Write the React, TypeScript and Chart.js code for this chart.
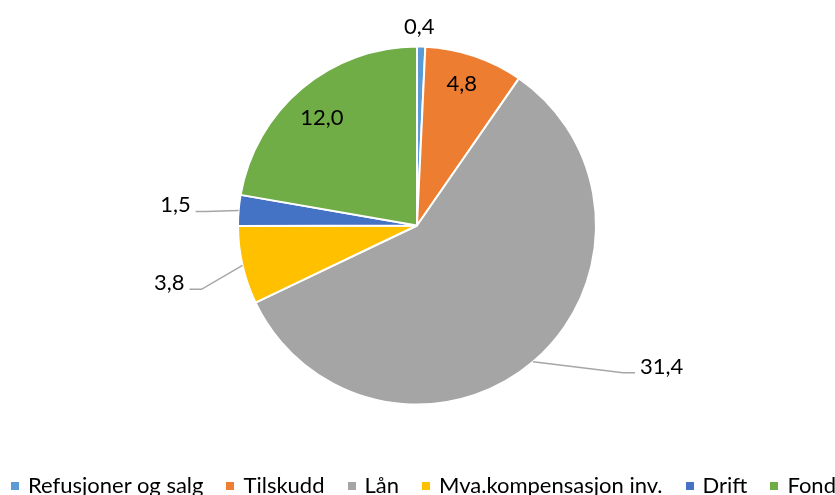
import React, { useEffect, useRef } from "react";
import { Chart, registerables } from "chart.js";

Chart.register(...registerables);

const categories = ["Refusjoner og salg", "Tilskudd", "Lån", "Mva.kompensasjon inv.", "Drift", "Fond"];
const values = [0.4, 4.8, 31.4, 3.8, 1.5, 12.0];
const sliceColors = ["#5B9BD5", "#ED7D31", "#A5A5A5", "#FFC000", "#4472C4", "#70AD47"];

const FONT = "Lato, 'Noto Sans', sans-serif";
const LABEL_SIZE = 22;
const LEGEND_SIZE = 22;

// placement style of each data label
const labelLayout: any[] = [
  { mode: "radial", dist: 20, nudgeX: -2.5, nudgeY: 0 },
  { mode: "inside", frac: 0.84, nudgeX: -3.5, nudgeY: 0 },
  { mode: "leader", elbowX: 90, elbowY: 11, run: 12 },
  { mode: "leader", elbowX: -41, elbowY: 24, run: 12 },
  { mode: "leader", elbowX: -33, elbowY: 1, run: 10 },
  { mode: "inside", frac: 0.8, nudgeX: -3, nudgeY: 1 },
];

const fmt = (v: number) => v.toFixed(1).replace(".", ",");

const labelPlugin = {
  id: "pieLabels",
  afterDatasetsDraw(chart: any) {
    const ctx = chart.ctx;
    const meta = chart.getDatasetMeta(0);
    ctx.save();
    ctx.font = `${LABEL_SIZE}px ${FONT}`;
    ctx.fillStyle = "#000";
    ctx.textBaseline = "alphabetic";
    const capHalf = LABEL_SIZE * 0.36;
    meta.data.forEach((arc: any, i: number) => {
      const { x, y, startAngle, endAngle, outerRadius } = arc.getProps(
        ["x", "y", "startAngle", "endAngle", "outerRadius"],
        true
      );
      const mid = (startAngle + endAngle) / 2;
      const cos = Math.cos(mid);
      const sin = Math.sin(mid);
      const lay = labelLayout[i];
      const text = fmt(values[i]);
      if (lay.mode === "inside" || lay.mode === "radial") {
        const d = lay.mode === "inside" ? outerRadius * lay.frac : outerRadius + lay.dist;
        const tx = x + d * cos + lay.nudgeX;
        const ty = y + d * sin + lay.nudgeY;
        ctx.textAlign = "center";
        ctx.fillText(text, tx, ty + capHalf);
      } else {
        const ex = x + outerRadius * cos;
        const ey = y + outerRadius * sin;
        const bx = ex + lay.elbowX;
        const by = ey + lay.elbowY;
        const dir = lay.elbowX >= 0 ? 1 : -1;
        const lx = bx + dir * lay.run;
        ctx.beginPath();
        ctx.strokeStyle = "#A6A6A6";
        ctx.lineWidth = 1.5;
        ctx.moveTo(ex, ey);
        ctx.lineTo(bx, by);
        ctx.lineTo(lx, by);
        ctx.stroke();
        ctx.textAlign = dir > 0 ? "left" : "right";
        ctx.fillText(text, lx + dir * 5, by + 1);
      }
    });
    ctx.restore();
  },
};

export default function App() {
  const ref = useRef<HTMLCanvasElement | null>(null);
  useEffect(() => {
    if (!ref.current) return;
    const chart = new Chart(ref.current, {
      type: "pie",
      data: {
        labels: categories,
        datasets: [
          {
            data: values,
            backgroundColor: sliceColors,
            borderColor: "#FFFFFF",
            borderWidth: 2,
            radius: 179,
          } as any,
        ],
      },
      options: {
        animation: false,
        responsive: false,
        layout: { padding: { top: 46, bottom: 90, left: 0, right: 1 } },
        plugins: {
          legend: { display: false },
          tooltip: { enabled: false },
        },
      },
      plugins: [labelPlugin],
    });
    return () => chart.destroy();
  }, []);

  return (
    <div
      style={{
        position: "fixed",
        left: 0,
        top: 0,
        width: 835,
        height: 495,
        overflow: "hidden",
        background: "#fff",
      }}
    >
      <canvas ref={ref} width={835} height={495} style={{ display: "block" }} />
      <div
        style={{
          position: "absolute",
          left: 11,
          top: 472,
          display: "flex",
          alignItems: "center",
          whiteSpace: "nowrap",
          fontFamily: FONT,
          fontSize: LEGEND_SIZE,
          lineHeight: "26px",
          color: "#000",
        }}
      >
        {categories.map((c, i) => (
          <div key={c} style={{ display: "flex", alignItems: "center", marginRight: 23 }}>
            <span
              style={{
                display: "inline-block",
                width: 8,
                height: 8,
                background: sliceColors[i],
                marginRight: 9,
                position: "relative",
                top: 1,
              }}
            />
            <span>{c}</span>
          </div>
        ))}
      </div>
    </div>
  );
}
